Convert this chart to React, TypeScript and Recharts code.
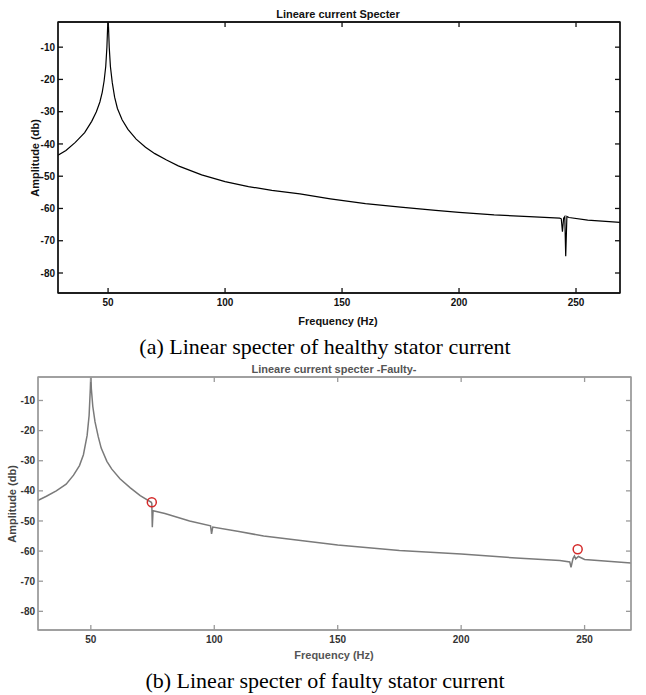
import {
  Line,
  LineChart,
  ReferenceArea,
  ReferenceDot,
  XAxis,
  YAxis,
} from "recharts";

// frequency (Hz) / amplitude (db)
const healthyFreq = [
  28.6, 32, 36, 40, 43, 45, 46.5, 47.5, 48.3, 49, 49.5, 49.8, 50, 50.2, 50.5,
  51, 51.8, 52.8, 54, 56, 58.5, 62, 66, 70, 75, 80, 90, 100, 110, 120, 132,
  145, 160, 175, 190, 200, 215, 230, 243, 243.7, 244.2, 244.7, 245.2, 245.6,
  246.1, 247, 255, 268.8,
];
const healthyAmp = [
  -43.5, -42, -39.5, -36.5, -33, -30, -27, -24, -20.5, -16, -10, -4, -1, -4,
  -10, -16, -21, -25.5, -29, -32.5, -35.5, -38.5, -41, -43, -45, -46.8, -49.6,
  -51.7, -53.2, -54.4, -55.5, -57, -58.5, -59.6, -60.6, -61.2, -62, -62.5,
  -63, -63.2, -67.2, -63, -62.5, -74.8, -62.5, -62.8, -63.6, -64.3,
];

const faultyFreq = [
  28.5, 32, 36, 40, 43, 45.4, 47, 48.5, 49.3, 49.8, 50, 50.2, 50.8, 51.7, 53,
  54.2, 56.5, 58.5, 61.8, 66, 70, 74.5, 74.7, 74.9, 75.2, 80, 90, 98.5, 98.9,
  99.4, 110, 120, 135, 150, 175, 200, 224, 240, 244, 244.5, 245.3, 245.9,
  246.4, 247.5, 250, 269,
];
const faultyAmp = [
  -43.2, -41.8, -40, -37.8, -34.8, -31.6, -28, -21.6, -15, -6, -1, -6, -12,
  -17.1, -22, -25.8, -30.2, -32.8, -36, -39, -41.6, -43.8, -44.2, -52.1,
  -46.6, -47.5, -50, -51.6, -54.3, -52, -53.5, -55, -56.5, -58, -59.8, -61,
  -62.4, -63.1, -63.6, -65.4, -62.5, -61.6, -62.6, -61.8, -62.8, -64,
];

// circled fault harmonics
const markFreq = [74.7, 247.2];
const markAmp = [-43.8, -59.4];

const freqTicks = [50, 100, 150, 200, 250];
const ampTicks = [-80, -70, -60, -50, -40, -30, -20, -10];

const toRows = (f: number[], a: number[]) =>
  f.map((hz, i) => ({ hz, db: a[i] }));

const FONT = "'Liberation Sans Narrow', 'Liberation Sans', Arial, sans-serif";
const X_DOMAIN = [28.6, 268.8];
const Y_DOMAIN = [-86.2, -2.2];

const noLabel = () => <g />;

type SpecProps = {
  rows: { hz: number; db: number }[];
  width: number;
  height: number;
  margin: { top: number; right: number; bottom: number; left: number };
  yWidth: number;
  stroke: string;
  lineWidth: number;
  axisColor: string;
  textColor: string;
  marks?: boolean;
};

function Spectrum({
  rows,
  width,
  height,
  margin,
  yWidth,
  stroke,
  lineWidth,
  axisColor,
  textColor,
  marks,
}: SpecProps) {
  const tick = { fontSize: 10, fontWeight: 700, fontFamily: FONT, fill: textColor };
  const line = { stroke: axisColor, strokeWidth: 1.3 };
  return (
    <LineChart width={width} height={height} data={rows} margin={margin}>
      <XAxis
        dataKey="hz"
        type="number"
        domain={X_DOMAIN}
        allowDataOverflow
        ticks={freqTicks}
        height={20}
        tick={tick}
        tickSize={-5}
        tickMargin={11}
        axisLine={line}
        tickLine={line}
      />
      <XAxis
        xAxisId="top"
        dataKey="hz"
        orientation="top"
        type="number"
        domain={X_DOMAIN}
        allowDataOverflow
        ticks={freqTicks}
        height={1}
        mirror
        tick={noLabel}
        tickSize={5}
        axisLine={line}
        tickLine={line}
      />
      <YAxis
        type="number"
        domain={Y_DOMAIN}
        allowDataOverflow
        ticks={ampTicks}
        width={yWidth}
        tick={tick}
        tickSize={-5}
        tickMargin={8}
        axisLine={line}
        tickLine={line}
      />
      <YAxis
        yAxisId="right"
        orientation="right"
        type="number"
        domain={Y_DOMAIN}
        allowDataOverflow
        ticks={ampTicks}
        width={1}
        mirror
        tick={noLabel}
        tickSize={5}
        axisLine={line}
        tickLine={line}
      />
      {/* plot frame */}
      <ReferenceArea
        x1={X_DOMAIN[0]}
        x2={X_DOMAIN[1]}
        y1={Y_DOMAIN[0]}
        y2={Y_DOMAIN[1]}
        fill="none"
        fillOpacity={0}
        stroke={axisColor}
        strokeWidth={1.3}
        strokeOpacity={1}
        ifOverflow="visible"
      />
      {/* invisible twin so the top/right frame axes are bound to data */}
      <Line
        xAxisId="top"
        yAxisId="right"
        dataKey="db"
        stroke="none"
        dot={false}
        activeDot={false}
        isAnimationActive={false}
      />
      <Line
        type="linear"
        dataKey="db"
        stroke={stroke}
        strokeWidth={lineWidth}
        dot={false}
        isAnimationActive={false}
      />
      {marks &&
        markFreq.map((hz, i) => (
          <ReferenceDot
            key={hz}
            x={hz}
            y={markAmp[i]}
            r={4.5}
            fill="none"
            stroke="#d42a2a"
            strokeWidth={1.5}
          />
        ))}
    </LineChart>
  );
}

const abs = (left: number, top: number): React.CSSProperties => ({
  position: "absolute",
  left,
  top,
});

const smallBold: React.CSSProperties = {
  fontFamily: FONT,
  fontWeight: 700,
  fontSize: 11,
  whiteSpace: "nowrap",
  transform: "translate(-50%, -50%)",
};

const caption: React.CSSProperties = {
  fontFamily: "'Liberation Serif', 'Times New Roman', serif",
  fontSize: 22,
  whiteSpace: "nowrap",
  transform: "translate(-50%, -50%)",
  color: "#000",
};

export default function App() {
  return (
    <div
      style={{
        position: "absolute",
        left: 0,
        top: 0,
        width: 646,
        height: 695,
        background: "#fff",
        overflow: "hidden",
      }}
    >
      <div style={abs(0, 0)}>
        <Spectrum
          rows={toRows(healthyFreq, healthyAmp)}
          width={646}
          height={330}
          margin={{ top: 22, right: 26, bottom: 17, left: 0 }}
          yWidth={58}
          stroke="#000"
          lineWidth={1.2}
          axisColor="#111"
          textColor="#111"
        />
      </div>
      <div style={{ ...abs(338, 14), ...smallBold, color: "#111" }}>
        Lineare current Specter
      </div>
      <div style={{ ...abs(338, 321), ...smallBold, color: "#111" }}>
        Frequency (Hz)
      </div>
      <div
        style={{
          ...abs(35, 158),
          ...smallBold,
          color: "#111",
          transform: "translate(-50%, -50%) rotate(-90deg)",
        }}
      >
        Amplitude (db)
      </div>
      <div style={{ ...abs(325, 347), ...caption }}>
        (a) Linear specter of healthy stator current
      </div>

      <div style={abs(0, 360)}>
        <Spectrum
          rows={toRows(faultyFreq, faultyAmp)}
          width={646}
          height={300}
          margin={{ top: 17, right: 15, bottom: 10, left: 0 }}
          yWidth={38}
          stroke="#7a7a7a"
          lineWidth={1.5}
          axisColor="#9a9a9a"
          textColor="#333"
          marks
        />
      </div>
      <div style={{ ...abs(334, 369), ...smallBold, color: "#555" }}>
        Lineare current specter -Faulty-
      </div>
      <div style={{ ...abs(334, 655), ...smallBold, color: "#555" }}>
        Frequency (Hz)
      </div>
      <div
        style={{
          ...abs(12, 504),
          ...smallBold,
          color: "#444",
          transform: "translate(-50%, -50%) rotate(-90deg)",
        }}
      >
        Amplitude (db)
      </div>
      <div style={{ ...abs(325, 681), ...caption }}>
        (b) Linear specter of faulty stator current
      </div>
    </div>
  );
}
